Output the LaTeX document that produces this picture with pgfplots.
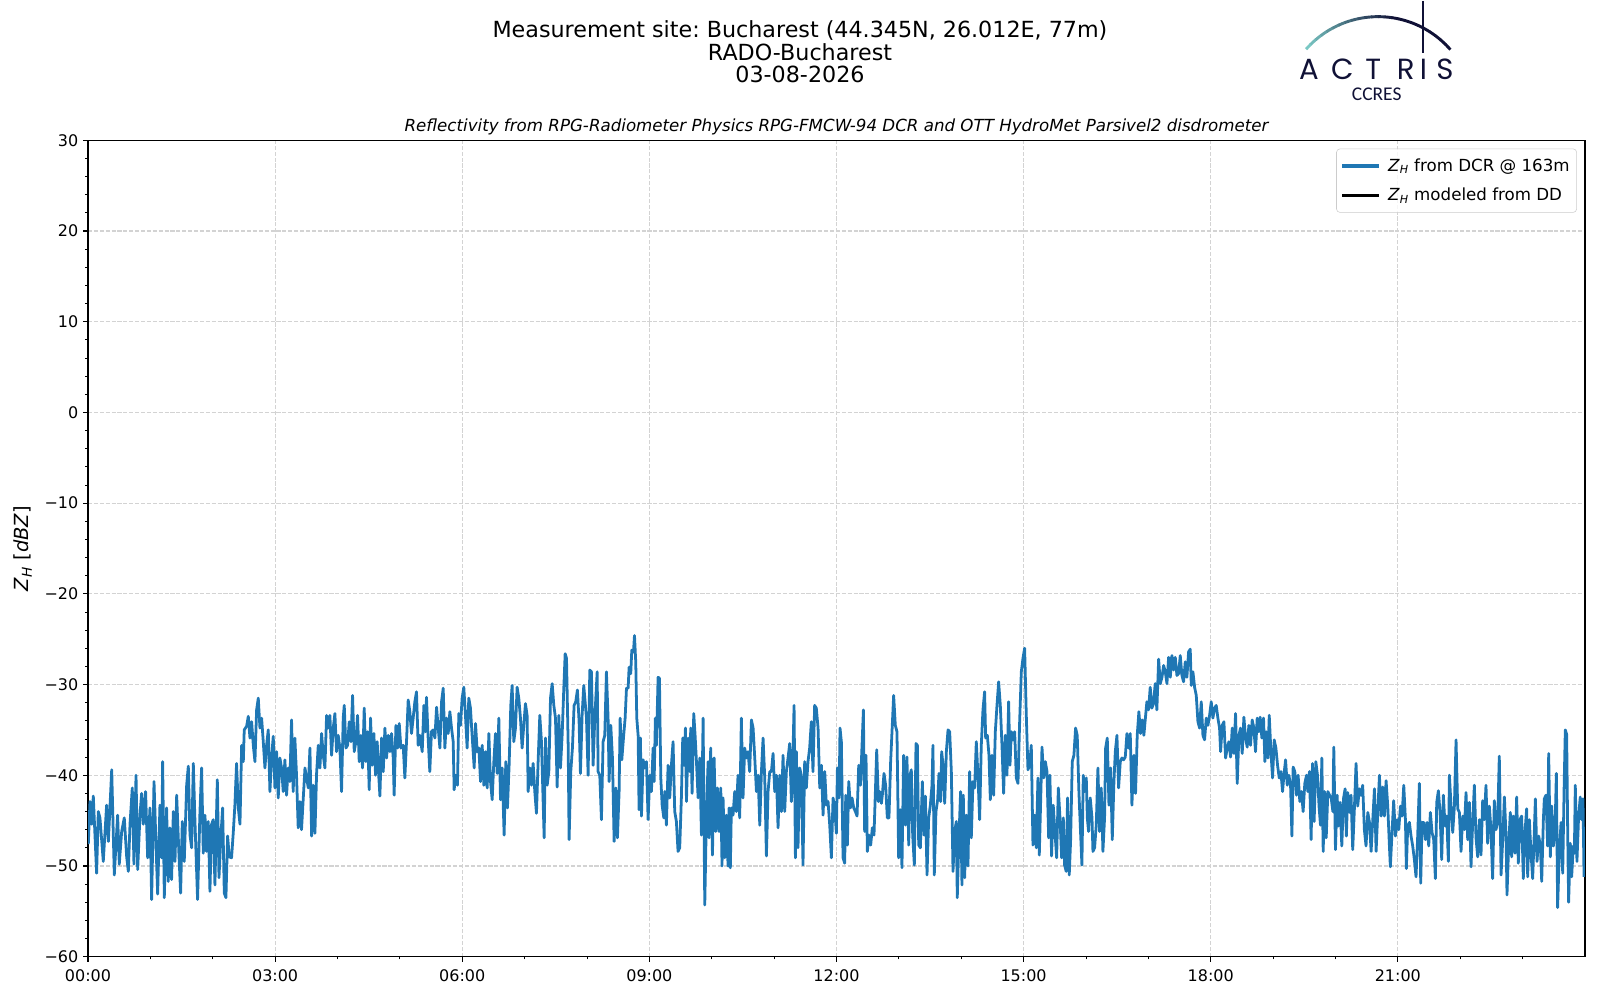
\documentclass[border=0pt]{standalone}
\usepackage{fontspec}
\setmainfont{DejaVu Sans}
\newfontfamily\logofont{Poppins}
\newfontfamily\ccresfont{Carlito}
\usepackage{pgfplots}
\pgfplotsset{compat=1.18}
\frenchspacing
\definecolor{mplblue}{RGB}{31,119,180}
\definecolor{gridgray}{RGB}{211,211,211}
\definecolor{legendgray}{RGB}{204,204,204}
\definecolor{logoteal}{RGB}{122,200,196}
\definecolor{logonavy}{RGB}{16,17,54}
\begin{document}
\begin{tikzpicture}
\path[use as bounding box] (0,0) rectangle (1152pt,720pt);
% titles
\node[anchor=base,font=\fontsize{16}{18}\selectfont] at (576pt,692.9pt) {Measurement site: Bucharest (44.345N, 26.012E, 77m)};
\node[anchor=base,font=\fontsize{16}{18}\selectfont] at (576pt,676.3pt) {RADO-Bucharest};
\node[anchor=base,font=\fontsize{16}{18}\selectfont] at (576pt,660.3pt) {03-08-2026};
\node[anchor=base,font=\fontsize{12}{14}\selectfont\itshape] at (602.3pt,625.2pt) {Reflectivity from RPG-Radiometer Physics RPG-FMCW-94 DCR and OTT HydroMet Parsivel2 disdrometer};
% logo
\foreach \i in {0,...,23}{
  \pgfmathsetmacro{\aa}{138.7-\i*97.4/24}
  \pgfmathsetmacro{\ab}{138.7-(\i+1)*97.4/24-0.3}
  \pgfmathsetmacro{\pp}{min(100,\i*100/14)}
  \draw[color=logonavy!\pp!logoteal,line width=2.1pt] ([shift={(\aa:69pt)}]992.2pt,639pt) arc[start angle=\aa,end angle=\ab,radius=69pt];
}
\draw[logonavy,line width=1.4pt] (1024.8pt,719.3pt) -- (1024.8pt,681.6pt);
\foreach \xx/\ll in {942.5/A,966.5/C,988.8/T,1012.1/R,1024.8/I,1040.4/S}{
  \node[anchor=base,inner sep=0pt,text=logonavy,font=\logofont\fontsize{21}{22}\selectfont] at (\xx pt,663.0pt) {\ll};
}
\node[anchor=base,inner sep=0pt,text=logonavy,font=\ccresfont\fontsize{14}{15}\selectfont] at (991.2pt,647.8pt) {CCRES};
\begin{axis}[
  at={(63.36pt,31.2pt)}, anchor=south west,
  scale only axis, width=1077.8pt, height=587.8pt,
  xmin=0, xmax=1440, ymin=-60, ymax=30,
  xtick={0,180,...,1260},
  xticklabels={00:00,03:00,06:00,09:00,12:00,15:00,18:00,21:00},
  minor xtick={60,120,240,300,420,480,600,660,780,840,960,1020,1140,1200,1320,1380},
  ytick={-60,-50,...,30},
  yticklabels={−60,−50,−40,−30,−20,−10,0,10,20,30},
  minor y tick num=4,
  tick pos=left, tick align=outside,
  major tick length=3.5pt, minor tick length=2pt,
  every tick/.style={black,line width=0.8pt},
  minor tick style={black,line width=0.6pt},
  axis line style={black,line width=0.8pt},
  ticklabel style={font=\fontsize{11.5}{13}\selectfont},
  xticklabel style={yshift=-2pt},
  grid=major,
  major grid style={gridgray,line width=0.8pt,dash pattern=on 2.96pt off 1.28pt},
  ylabel={\textit{Z}\textsubscript{\textit{H}} [\textit{dBZ}]},
  every axis y label/.style={at={(axis description cs:-0.0434,0.5)},anchor=center,rotate=90,font=\fontsize{14}{16}\selectfont},
  legend style={at={(1,1)},anchor=north east,xshift=-5.8pt,yshift=-6pt,
    draw=legendgray,rounded corners=2.5pt,fill=white,fill opacity=0.8,text opacity=1,
    font=\fontsize{12}{14}\selectfont,inner xsep=3pt,inner ysep=5pt,row sep=6.5pt,
    cells={anchor=west}},
  legend image code/.code={\draw[#1,sharp corners] (0pt,0pt) -- (26.5pt,0pt); \path (30pt,0pt);},
]
\addplot[forget plot,mplblue,line width=2pt,line join=round,mark=none] coordinates {
(0.3,-47.6)(1.9,-42.9)(3.5,-45.4)(5.1,-42.3)(6.7,-46.6)(8.3,-50.8)(9.9,-44.0)(11.5,-44.7)(14.7,-49.5)(17.9,-43.3)(19.6,-47.3)(22.8,-39.4)(25.3,-51.0)(28.5,-44.4)(30.1,-49.8)(32.4,-46.2)(34.9,-44.7)(37.2,-49.0)(38.8,-50.6)(40.4,-45.4)(42.6,-41.4)(44.2,-49.8)(46.2,-40.0)(47.8,-50.4)(50.0,-44.4)(51.6,-42.0)(53.2,-45.4)(55.4,-41.8)(57.4,-49.1)(59.6,-43.6)(61.2,-53.7)(63.5,-40.7)(65.4,-47.6)(67.0,-53.1)(69.2,-43.3)(70.8,-49.1)(71.8,-38.5)(73.4,-53.5)(75.6,-43.6)(77.2,-51.7)(78.8,-45.8)(80.4,-51.5)(82.1,-44.0)(83.7,-49.5)(85.3,-42.2)(87.5,-48.8)(89.1,-53.0)(90.7,-45.1)(92.6,-49.5)(94.9,-41.1)(96.5,-39.0)(98.1,-46.6)(99.7,-48.0)(101.3,-38.7)(102.9,-45.1)(105.4,-53.7)(107.7,-44.0)(109.3,-39.2)(110.9,-48.6)(112.5,-44.4)(114.1,-48.4)(115.7,-45.1)(117.3,-52.8)(118.9,-45.4)(120.5,-44.9)(122.1,-52.1)(124.4,-40.5)(126.0,-51.3)(127.9,-46.6)(129.5,-43.6)(131.1,-53.0)(132.7,-53.5)(134.3,-46.7)(135.9,-49.0)(138.1,-49.1)(139.7,-46.4)(141.3,-43.3)(142.9,-38.7)(144.6,-43.6)(146.2,-45.4)(147.8,-36.7)(149.4,-38.5)(150.3,-35.0)(152.6,-34.6)(154.2,-33.5)(155.8,-35.9)(157.4,-34.1)(159.0,-36.7)(160.6,-38.5)(162.2,-32.8)(163.8,-31.5)(165.4,-34.8)(167.0,-33.7)(168.6,-36.3)(170.2,-39.2)(171.8,-36.7)(173.4,-35.0)(175.0,-41.8)(176.6,-38.1)(178.2,-35.7)(179.8,-41.4)(181.4,-37.4)(183.0,-42.5)(184.6,-38.1)(186.2,-39.2)(187.8,-41.8)(189.4,-38.3)(191.0,-42.2)(192.6,-39.2)(194.2,-40.7)(195.8,-33.9)(197.4,-41.8)(199.0,-35.9)(200.6,-40.0)(202.2,-45.8)(203.8,-42.9)(205.4,-46.0)(207.0,-42.7)(208.7,-39.2)(210.3,-40.3)(211.9,-41.4)(213.5,-37.0)(215.1,-46.7)(216.7,-41.1)(218.3,-46.4)(219.9,-39.8)(221.5,-36.7)(223.1,-39.2)(224.7,-35.4)(226.3,-37.8)(227.9,-39.2)(229.5,-33.4)(231.1,-34.8)(232.7,-33.4)(234.3,-37.8)(235.9,-34.8)
(237.5,-33.2)(239.1,-37.4)(240.7,-35.6)(242.3,-37.0)(243.9,-41.8)(245.5,-33.7)(246.5,-32.3)(248.1,-37.0)(249.7,-36.7)(251.3,-34.1)(252.9,-36.3)(254.5,-31.2)(256.1,-37.4)(257.7,-36.3)(259.3,-33.4)(260.9,-38.5)(262.5,-35.6)(264.1,-39.2)(265.7,-32.6)(267.3,-38.5)(268.9,-35.2)(270.5,-41.6)(271.8,-33.7)(273.4,-38.9)(275.0,-35.4)(276.6,-40.0)(278.2,-36.3)(279.8,-40.3)(280.8,-42.3)(282.4,-35.9)(284.0,-39.6)(285.6,-34.8)(287.2,-38.1)(288.8,-35.6)(290.4,-37.4)(292.0,-35.4)(293.6,-38.1)(294.5,-42.2)(296.2,-34.5)(297.8,-37.0)(299.4,-34.3)(301.0,-37.0)(303.2,-36.7)(304.8,-40.3)(306.4,-36.3)(308.0,-31.7)(309.6,-33.0)(311.2,-35.4)(312.8,-33.7)(314.4,-31.9)(316.0,-30.8)(317.6,-36.7)(319.2,-35.6)(321.5,-37.4)(323.1,-32.3)(324.7,-35.2)(325.6,-31.4)(327.2,-35.9)(328.8,-39.6)(330.4,-35.2)(332.0,-35.0)(333.7,-35.9)(335.3,-32.5)(336.9,-34.8)(338.5,-37.0)(340.1,-31.9)(341.7,-30.4)(343.3,-37.0)(344.9,-33.7)(346.5,-35.4)(348.1,-33.0)(349.7,-34.8)(351.3,-36.3)(352.2,-41.6)(353.8,-40.0)(355.4,-41.1)(356.7,-33.2)(358.3,-34.5)(359.9,-31.5)(361.5,-30.3)(363.1,-33.4)(364.7,-37.0)(366.3,-31.5)(367.9,-32.6)(369.5,-35.6)(371.5,-39.2)(372.8,-34.3)(374.4,-37.4)(376.0,-37.0)(377.6,-40.7)(379.2,-36.7)(380.8,-41.1)(382.4,-37.4)(384.0,-41.4)(385.6,-35.4)(387.2,-40.7)(388.8,-42.7)(390.4,-38.5)(392.0,-35.4)(393.6,-39.8)(395.2,-33.7)(396.8,-42.7)(398.4,-39.2)(400.3,-46.6)(401.9,-38.5)(403.5,-43.6)(405.1,-38.9)(406.7,-32.3)(408.0,-30.1)(409.6,-36.3)(411.2,-34.8)(412.8,-30.3)(414.4,-31.5)(416.0,-33.7)(417.6,-37.0)(419.2,-34.5)(420.8,-32.1)(422.4,-33.4)(423.4,-41.8)(425.0,-39.2)(426.6,-41.1)(428.2,-38.7)(429.8,-41.8)(431.4,-44.2)(433.0,-38.5)(434.6,-33.4)(436.2,-36.3)(438.8,-46.9)(440.1,-35.9)(441.7,-41.1)(443.3,-39.6)(444.9,-31.5)(446.5,-29.9)(448.1,-32.3)(449.7,-33.7)(451.3,-41.3)(452.9,-33.4)(454.5,-39.2)(456.1,-35.6)(457.7,-30.4)(459.0,-26.6)(460.3,-27.1)(461.9,-36.7)(462.8,-47.1)(464.4,-39.6)(466.0,-37.0)(467.6,-32.3)(469.2,-31.9)(470.8,-30.6)(472.4,-34.1)(473.7,-39.8)(475.3,-33.4)(476.9,-30.1)
(479.5,-33.7)(481.1,-40.0)(482.7,-28.4)(484.3,-28.6)(485.9,-38.9)(487.5,-33.7)(489.8,-28.6)(490.7,-39.6)(492.3,-40.0)(493.9,-44.9)(495.5,-36.3)(497.1,-35.6)(498.7,-28.6)(500.3,-33.7)(501.3,-40.7)(502.9,-34.5)(504.5,-38.1)(506.1,-47.3)(507.7,-41.4)(509.3,-46.9)(510.9,-41.8)(511.9,-33.7)(513.5,-38.3)(515.1,-35.9)(516.7,-33.7)(518.0,-30.4)(519.6,-30.4)(520.5,-28.1)(522.1,-28.8)(523.1,-26.2)(524.7,-26.4)(525.7,-24.6)(526.9,-27.5)(527.9,-33.7)(529.2,-35.6)(530.1,-43.8)(531.4,-35.9)(532.4,-44.5)(534.0,-38.3)(535.6,-39.2)(537.2,-38.5)(538.8,-44.9)(540.4,-40.0)(542.0,-41.8)(543.6,-37.0)(544.6,-40.7)(545.8,-33.7)(546.8,-36.7)(548.4,-29.2)(549.7,-29.3)(551.0,-40.3)(552.3,-43.3)(553.9,-44.7)(554.8,-41.8)(556.4,-45.5)(558.0,-38.9)(559.6,-42.5)(561.2,-38.9)(562.8,-36.3)(564.4,-44.0)(566.0,-45.1)(567.6,-48.4)(569.2,-48.0)(570.8,-42.5)(572.1,-35.9)(573.4,-38.9)(574.7,-34.8)(575.7,-42.9)(577.3,-35.9)(578.9,-39.6)(579.8,-34.8)(581.1,-42.0)(582.7,-33.2)(584.0,-35.6)(585.3,-38.5)(586.9,-42.5)(588.5,-38.1)(590.1,-46.6)(591.7,-33.7)(593.3,-54.3)(594.9,-44.4)(596.5,-38.5)(597.4,-46.9)(599.0,-37.0)(600.7,-48.8)(602.3,-38.1)(603.9,-46.2)(605.5,-41.4)(607.1,-46.2)(608.7,-41.4)(609.9,-50.0)(610.9,-42.5)(612.5,-49.1)(614.1,-44.4)(615.7,-50.0)(616.7,-43.6)(617.9,-50.2)(618.9,-43.6)(620.5,-44.4)(622.1,-41.8)(623.7,-44.0)(625.3,-40.0)(626.9,-44.7)(628.5,-33.7)(630.1,-42.5)(631.7,-37.0)(633.3,-38.1)(634.9,-37.4)(636.5,-39.6)(638.2,-33.9)(639.8,-34.8)(641.4,-38.1)(643.0,-41.8)(644.6,-40.0)(646.2,-45.5)(647.8,-39.6)(649.4,-35.9)(651.0,-40.3)(652.6,-48.9)(654.2,-41.8)(655.8,-39.6)(657.4,-39.6)(659.0,-37.6)(660.6,-41.8)(662.2,-40.0)(663.8,-45.8)(665.4,-40.0)(667.0,-44.0)(668.6,-37.8)(670.2,-44.0)(671.8,-39.6)(673.4,-38.1)(675.0,-36.5)(676.6,-42.9)(678.2,-37.4)(679.2,-32.3)(680.5,-49.1)(681.4,-37.4)(683.0,-48.0)(684.6,-39.2)(686.2,-40.0)(687.8,-49.9)(689.4,-38.5)(691.0,-41.4)(692.6,-38.5)(694.2,-37.0)(695.8,-34.1)(697.4,-39.6)(699.0,-32.3)(700.6,-32.6)(702.3,-34.8)(703.9,-41.4)(705.5,-38.9)(707.1,-44.4)(708.7,-39.6)(710.3,-43.3)(711.9,-42.9)(713.5,-45.5)(715.1,-49.1)(716.7,-42.5)
(718.3,-43.6)(719.9,-46.4)(720.9,-39.2)(722.5,-42.5)(723.4,-34.8)(724.7,-36.3)(726.3,-49.1)(727.9,-49.7)(728.9,-42.2)(730.5,-47.7)(731.8,-40.7)(733.4,-43.6)(735.0,-42.5)(736.6,-43.6)(738.2,-44.0)(739.8,-44.5)(741.4,-38.9)(743.0,-41.1)(743.9,-38.7)(745.9,-32.8)(747.1,-46.2)(748.4,-37.8)(749.7,-48.4)(751.3,-46.6)(752.9,-47.7)(754.5,-45.8)(756.1,-46.6)(758.7,-37.2)(760.3,-42.9)(761.6,-41.8)(763.2,-43.1)(764.1,-42.2)(765.7,-39.8)(767.3,-41.1)(768.9,-44.7)(770.5,-44.7)(772.1,-38.5)(773.4,-35.2)(775.0,-31.2)(776.6,-34.5)(778.2,-35.2)(779.8,-49.1)(781.4,-43.8)(783.0,-50.2)(784.6,-37.8)(786.2,-45.5)(787.8,-38.0)(789.5,-47.7)(790.7,-40.0)(792.0,-39.4)(793.3,-46.6)(794.9,-49.9)(796.5,-36.5)(797.8,-36.7)(799.1,-47.7)(800.7,-48.0)(802.6,-40.7)(804.2,-46.6)(805.5,-42.3)(807.1,-51.0)(808.7,-44.7)(810.3,-43.3)(811.9,-41.1)(812.8,-36.7)(814.1,-51.0)(815.7,-44.0)(817.3,-42.7)(818.6,-39.8)(820.2,-42.9)(821.2,-37.4)(822.5,-38.9)(824.1,-43.1)(825.7,-37.4)(827.3,-35.0)(828.9,-35.2)(830.5,-39.6)(832.1,-50.6)(833.7,-46.2)(835.3,-45.1)(836.2,-53.5)(837.8,-46.9)(839.4,-41.8)(840.7,-52.1)(842.0,-42.2)(843.3,-51.3)(844.9,-44.4)(846.5,-50.0)(848.1,-39.6)(849.7,-46.9)(851.3,-40.7)(852.9,-41.4)(854.5,-36.3)(856.1,-40.0)(857.7,-44.9)(859.3,-36.7)(860.9,-32.8)(862.5,-30.8)(863.5,-35.9)(865.1,-35.6)(866.7,-37.8)(868.0,-42.7)(869.6,-37.8)(871.2,-42.2)(872.8,-35.2)(874.4,-32.3)(876.0,-29.7)(877.6,-32.3)(879.2,-36.7)(880.8,-42.0)(882.4,-35.6)(884.0,-40.0)(885.6,-31.9)(886.9,-38.9)(888.2,-35.2)(889.8,-36.1)(891.4,-35.2)(893.0,-40.3)(894.6,-40.9)(896.2,-34.1)(897.8,-28.6)(899.4,-27.1)(901.0,-26.0)(902.6,-33.4)(904.2,-39.4)(905.8,-38.9)(907.4,-36.7)(909.0,-47.7)(910.6,-44.4)(912.2,-48.0)(913.8,-40.3)(915.1,-48.8)(916.4,-42.9)(917.7,-36.9)(919.3,-40.3)(920.9,-38.5)(922.5,-39.6)(924.1,-46.9)(925.3,-40.0)(926.9,-48.9)(928.5,-43.3)(930.1,-46.2)(931.8,-49.1)(933.4,-41.4)(935.0,-44.7)(936.6,-49.1)(938.2,-44.7)(939.4,-49.9)(941.0,-50.6)(942.3,-42.5)(943.9,-51.0)(945.2,-47.3)(946.8,-38.5)(948.4,-37.8)(950.0,-34.8)(951.6,-35.6)(953.2,-41.8)(954.5,-45.5)(956.1,-49.9)(957.4,-40.0)
(958.7,-41.8)(960.3,-40.3)(961.3,-44.7)(962.5,-46.2)(964.1,-42.5)(965.8,-44.7)(966.7,-48.4)(968.3,-48.0)(969.9,-45.5)(971.5,-39.2)(973.1,-46.2)(974.7,-41.4)(976.3,-48.4)(977.9,-44.7)(978.9,-37.0)(980.5,-35.9)(982.1,-43.3)(983.7,-39.2)(985.3,-47.1)(986.9,-40.7)(988.2,-37.4)(989.8,-35.6)(991.4,-41.4)(993.0,-38.5)(994.6,-38.1)(996.2,-38.3)(997.8,-38.0)(999.4,-35.4)(1001.0,-37.0)(1002.6,-35.4)(1004.2,-43.3)(1006.1,-37.8)(1007.7,-42.0)(1009.3,-35.6)(1010.9,-33.0)(1012.5,-35.4)(1014.1,-33.9)(1015.7,-35.6)(1017.0,-33.9)(1018.6,-31.9)(1020.2,-32.8)(1021.8,-30.3)(1023.4,-32.6)(1025.0,-32.1)(1026.6,-29.9)(1028.2,-32.8)(1029.9,-27.2)(1031.5,-29.9)(1033.1,-29.2)(1034.7,-27.9)(1036.3,-28.6)(1037.9,-29.9)(1039.5,-27.0)(1041.1,-29.2)(1042.7,-26.8)(1044.3,-28.4)(1045.9,-27.0)(1047.5,-29.0)(1049.1,-28.8)(1050.7,-26.8)(1052.3,-29.0)(1053.9,-29.7)(1055.5,-27.5)(1057.1,-29.2)(1058.7,-26.4)(1060.3,-26.1)(1061.3,-30.1)(1062.9,-28.6)(1064.5,-30.3)(1066.1,-31.2)(1067.7,-34.1)(1069.3,-34.8)(1070.9,-31.9)(1072.5,-35.6)(1074.1,-36.1)(1075.7,-33.7)(1077.3,-34.5)(1078.9,-33.4)(1080.5,-31.9)(1082.1,-33.7)(1083.7,-32.6)(1085.3,-32.3)(1086.9,-33.7)(1088.5,-34.8)(1089.5,-37.4)(1091.1,-34.5)(1092.7,-34.1)(1094.3,-38.1)(1095.9,-37.0)(1097.5,-36.3)(1099.1,-38.0)(1100.7,-34.8)(1102.3,-37.6)(1103.9,-33.2)(1105.5,-40.9)(1107.1,-35.6)(1108.7,-34.8)(1110.3,-37.6)(1111.9,-33.6)(1113.5,-35.9)(1115.1,-36.9)(1116.7,-34.5)(1118.3,-36.7)(1119.9,-33.9)(1121.5,-34.8)(1123.1,-37.4)(1124.7,-33.7)(1126.3,-35.2)(1127.6,-33.6)(1129.2,-35.9)(1130.8,-33.7)(1132.1,-38.5)(1133.4,-35.2)(1135.0,-38.1)(1136.3,-33.4)(1137.9,-37.4)(1139.5,-40.3)(1141.1,-36.1)(1142.7,-37.0)(1144.3,-38.9)(1145.9,-40.3)(1147.5,-39.6)(1149.1,-41.8)(1150.4,-40.0)(1152.0,-38.3)(1153.6,-41.1)(1155.2,-40.0)(1156.8,-41.1)(1158.1,-46.7)(1159.3,-39.1)(1160.9,-39.6)(1162.5,-42.2)(1164.1,-40.0)(1165.7,-42.9)(1167.3,-41.8)(1168.9,-44.0)(1170.5,-40.9)(1172.2,-40.0)(1173.4,-41.8)(1175.0,-39.6)(1176.6,-47.1)(1177.9,-38.7)(1179.5,-45.1)(1181.1,-38.5)(1182.7,-40.0)(1184.3,-43.6)(1185.6,-45.5)(1186.9,-38.1)(1188.2,-48.4)(1189.5,-41.8)(1191.1,-46.9)(1192.7,-41.8)(1194.3,-42.2)(1195.9,-42.5)(1197.5,-44.0)(1198.4,-36.9)
(1200.0,-48.2)(1201.6,-42.2)(1202.8,-45.6)(1204.4,-43.0)(1206.1,-47.8)(1207.7,-42.6)(1209.3,-41.5)(1210.5,-46.7)(1211.8,-41.9)(1213.4,-44.1)(1215.0,-42.2)(1216.6,-48.2)(1218.2,-43.7)(1219.8,-38.7)(1221.4,-43.4)(1223.0,-41.5)(1224.6,-42.2)(1226.2,-41.1)(1227.8,-46.0)(1229.4,-47.8)(1231.1,-44.1)(1232.7,-45.2)(1234.3,-48.4)(1235.9,-44.9)(1237.5,-41.5)(1239.1,-48.4)(1240.7,-44.1)(1242.3,-40.0)(1243.9,-44.5)(1245.5,-41.3)(1247.1,-44.5)(1248.7,-40.6)(1250.3,-43.4)(1251.9,-47.8)(1252.8,-50.1)(1254.4,-46.3)(1256.0,-42.8)(1257.7,-46.7)(1259.3,-44.9)(1260.9,-46.0)(1262.5,-43.4)(1264.1,-44.5)(1265.7,-41.1)(1267.3,-44.9)(1268.2,-50.3)(1269.5,-45.6)(1271.1,-45.2)(1272.7,-46.7)(1274.3,-47.8)(1275.9,-49.3)(1277.5,-51.2)(1279.1,-46.7)(1280.7,-40.9)(1282.0,-51.9)(1283.3,-45.2)(1284.9,-45.2)(1286.5,-47.1)(1288.1,-45.2)(1289.7,-47.8)(1291.3,-44.1)(1292.9,-46.3)(1294.5,-47.1)(1296.1,-51.4)(1297.4,-43.0)(1299.0,-41.7)(1300.6,-44.1)(1302.2,-49.3)(1303.8,-42.2)(1305.4,-45.6)(1307.0,-44.5)(1308.6,-49.5)(1309.6,-40.0)(1311.2,-43.4)(1312.8,-46.3)(1314.4,-43.4)(1316.0,-36.1)(1317.6,-43.7)(1319.2,-44.1)(1320.8,-48.4)(1322.4,-44.5)(1324.0,-46.0)(1325.6,-41.9)(1327.2,-47.1)(1328.8,-43.0)(1330.4,-50.1)(1332.0,-45.2)(1333.6,-41.1)(1335.2,-46.9)(1336.8,-49.0)(1338.4,-44.9)(1340.0,-48.8)(1341.6,-42.8)(1343.2,-44.9)(1344.8,-41.1)(1346.4,-47.5)(1348.0,-43.4)(1349.6,-46.0)(1351.2,-51.4)(1352.8,-42.8)(1354.4,-46.0)(1356.0,-45.2)(1357.6,-37.9)(1359.3,-51.0)(1360.9,-47.1)(1362.5,-42.4)(1364.1,-46.7)(1365.0,-53.2)(1366.6,-47.8)(1368.2,-44.1)(1369.5,-49.0)(1371.1,-44.5)(1372.7,-48.6)(1374.3,-42.4)(1375.9,-49.7)(1377.5,-44.9)(1379.1,-44.5)(1380.7,-51.4)(1382.3,-46.3)(1383.9,-43.7)(1384.9,-51.2)(1386.5,-44.9)(1388.1,-48.6)(1389.7,-51.4)(1391.3,-46.2)(1392.3,-42.6)(1393.9,-49.5)(1395.5,-46.7)(1397.1,-47.8)(1398.4,-51.7)(1400.0,-44.9)(1400.9,-42.6)(1402.5,-42.2)(1404.1,-47.8)(1405.1,-37.6)(1406.7,-49.0)(1408.0,-43.4)(1409.6,-47.8)(1411.2,-46.0)(1412.5,-39.8)(1413.7,-54.6)(1415.3,-48.6)(1417.0,-45.2)(1418.6,-50.8)(1420.1,-40.4)(1421.1,-35.0)(1422.4,-35.5)(1423.4,-46.3)(1424.3,-54.0)(1425.9,-47.5)(1427.2,-51.2)(1428.8,-47.8)(1429.8,-48.6)(1430.7,-41.1)(1432.3,-49.5)(1433.9,-44.5)(1435.5,-42.4)(1436.8,-44.9)(1438.1,-42.6)(1439.1,-51.2)
};
\addlegendimage{mplblue,line width=2.2pt}
\addlegendentry{\textit{Z}\textsubscript{\textit{H}} from DCR @ 163m}
\addlegendimage{black,line width=2pt}
\addlegendentry{\textit{Z}\textsubscript{\textit{H}} modeled from DD}
\end{axis}
\end{tikzpicture}
\end{document}
